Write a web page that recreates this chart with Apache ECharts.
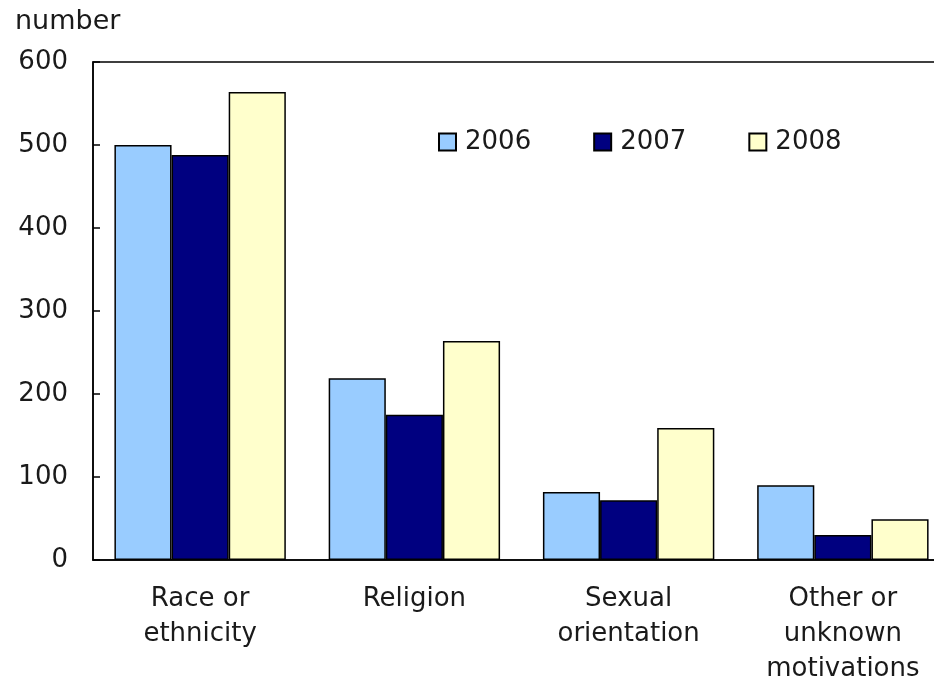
<!DOCTYPE html>
<html>
<head>
<meta charset="utf-8">
<script src="https://cdn.jsdelivr.net/npm/echarts@6/dist/echarts.min.js"></script>
<style>
html,body{margin:0;padding:0;background:#fff;}
#c{width:934px;height:677px;}
</style>
</head>
<body>
<div id="c"></div>
<script>
const categories = ['Race or\nethnicity', 'Religion', 'Sexual\norientation', 'Other or\nunknown\nmotivations'];
const years = ['2006', '2007', '2008'];
const v2006 = [500, 219, 82, 90];
const v2007 = [488, 175, 72, 30];
const v2008 = [564, 264, 159, 49];
const yTicks = [0, 100, 200, 300, 400, 500, 600];
const colors = ['#99CCFF', '#000080', '#FFFFCC'];

const font = 'DejaVu Sans';
const chart = echarts.init(document.getElementById('c'));
const seriesData = [v2006, v2007, v2008];
chart.setOption({
  animation: false,
  backgroundColor: '#fff',
  title: {
    text: 'number', left: 10, top: 3,
    textStyle: {fontFamily: font, fontSize: 27, fontWeight: 'normal', color: '#1a1a1a'}
  },
  legend: {
    left: 433, top: 124,
    itemWidth: 17, itemHeight: 17, itemGap: 62,
    icon: 'rect',
    textStyle: {fontFamily: font, fontSize: 26, color: '#1a1a1a', padding: [0,0,0,4]},
    data: years
  },
  grid: {
    left: 93, right: -16, top: 62, bottom: 117,
    outerBoundsMode: 'none',
    containLabel: false,
    show: true, borderColor: '#000', borderWidth: 1.5, backgroundColor: '#fff'
  },
  xAxis: {
    type: 'category',
    data: categories,
    axisLine: {lineStyle: {color: '#000', width: 1.5}},
    axisTick: {show: false},
    axisLabel: {fontFamily: font, fontSize: 26, color: '#1a1a1a', margin: 22, lineHeight: 35, interval: 0}
  },
  yAxis: {
    type: 'value', min: yTicks[0], max: yTicks[yTicks.length-1], interval: 100,
    axisLine: {show: true, lineStyle: {color: '#000', width: 1.5}},
    axisTick: {show: true, inside: true, length: 7, lineStyle: {color: '#000', width: 1.5}},
    splitLine: {show: false},
    axisLabel: {fontFamily: font, fontSize: 26, color: '#1a1a1a', margin: 25}
  },
  series: years.map((y, i) => ({
    name: y, type: 'bar', data: seriesData[i],
    barGap: '0%', barCategoryGap: '20%',
    itemStyle: {color: colors[i], borderColor: '#000', borderWidth: 1.5}
  }))
});
</script>
</body>
</html>
